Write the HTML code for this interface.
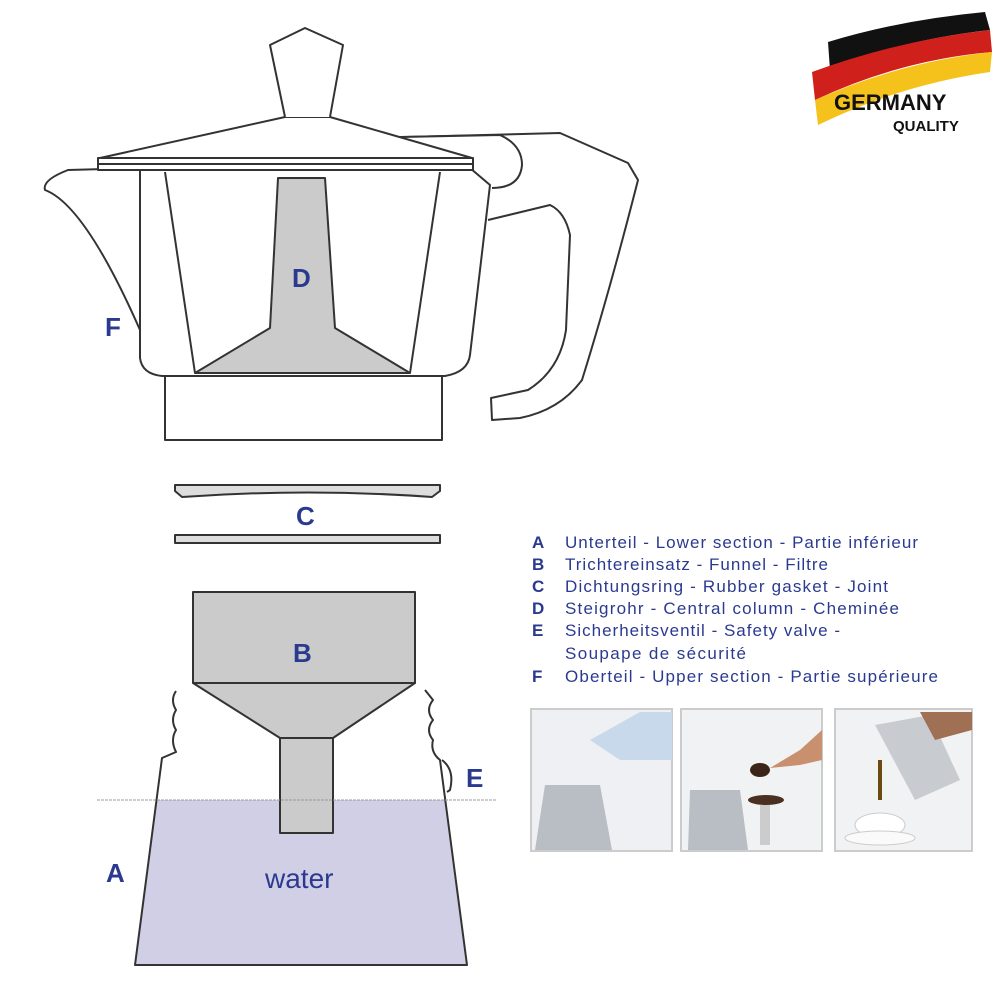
<!DOCTYPE html>
<html><head><meta charset="utf-8"><style>
body{margin:0;background:#fff;}
svg{display:block;}
text{font-family:"Liberation Sans",sans-serif;}
</style></head><body>
<svg width="1000" height="1000" viewBox="0 0 1000 1000" xmlns="http://www.w3.org/2000/svg">
<rect width="1000" height="1000" fill="#fff"/>
<g fill="none" stroke="#333" stroke-width="2" stroke-linejoin="round">
<!-- handle -->
<path d="M405,137 L560,133 L628,163 L638,180 Q610,290 582,380 Q560,410 520,418 L492,420 L491,398 L528,390 Q560,370 566,330 L570,235 Q565,212 550,205 L488,220" fill="#fff"/>
<path d="M400,137 L500,135 Q522,145 522,165 Q520,188 492,188" fill="#fff"/>
<!-- spout -->
<path d="M140,168 L68,170 Q42,180 45,190 Q85,205 140,330"/>
<!-- body -->
<path d="M140,168 L140,358 Q142,374 162,376 L445,376 Q468,372 470,355 L490,185 L470,168" fill="#fff"/>
<line x1="165" y1="172" x2="195" y2="373"/>
<line x1="440" y1="172" x2="410" y2="373"/>
<path d="M278,178 L325,178 L335,328 L410,373 L195,373 L270,328 Z" fill="#cbcbcb"/>
<!-- lid -->
<path d="M100,158 L285,117 L330,117 L472,158 Z" fill="#fff"/>
<rect x="98" y="158" width="375" height="12" fill="#fff"/>
<line x1="98" y1="164" x2="473" y2="164"/>
<path d="M285,117 L270,45 L305,28 L343,45 L330,117" fill="#fff"/>
<rect x="165" y="376" width="277" height="64" fill="#fff"/>
<!-- gasket -->
<path d="M175,485 L440,485 L440,491 L432,497 Q308,488 182,497 L175,491 Z" fill="#ddd"/>
<rect x="175" y="535" width="265" height="8" fill="#ddd"/>
<!-- bottom body water -->
<path d="M156.5,800 L135,965 L467,965 L445.3,800 Z" fill="#d0cfe6" stroke="none"/>
<path d="M176,691 Q170,700 176,710 Q170,720 176,730 Q170,740 176,752 L162,758 L135,965 L467,965 L440,760 Q430,752 433,740 Q425,730 433,720 Q425,710 433,700 L425,690"/>
<path d="M442,760 Q455,770 450,790 L447,792" fill="#fff"/>
<!-- funnel -->
<rect x="193" y="592" width="222" height="91" fill="#cbcbcb"/>
<path d="M193,683 L415,683 L333,738 L280,738 Z" fill="#cbcbcb"/>
<rect x="280" y="738" width="53" height="95" fill="#cbcbcb"/>
</g>
<line x1="97" y1="800" x2="497" y2="800" stroke="#999" stroke-width="1" stroke-dasharray="3,1"/>
<g fill="#2b3a8f" font-weight="bold" font-size="26">
<text x="292" y="287">D</text><text x="105" y="336">F</text>
<text x="296" y="525">C</text><text x="293" y="662">B</text>
<text x="466" y="787">E</text><text x="106" y="882">A</text>
</g>
<text x="265" y="888" fill="#2b3a8f" font-size="28">water</text>
<g fill="#2b3a8f" font-size="17">
<g font-weight="bold"><text x="532" y="548">A</text><text x="532" y="570">B</text><text x="532" y="592">C</text><text x="532" y="614">D</text><text x="532" y="636">E</text><text x="532" y="682">F</text></g>
<text x="565" y="548" textLength="353" lengthAdjust="spacing">Unterteil - Lower section - Partie inférieur</text>
<text x="565" y="570" textLength="263" lengthAdjust="spacing">Trichtereinsatz - Funnel - Filtre</text>
<text x="565" y="592" textLength="323" lengthAdjust="spacing">Dichtungsring - Rubber gasket - Joint</text>
<text x="565" y="614" textLength="334" lengthAdjust="spacing">Steigrohr - Central column - Cheminée</text>
<text x="565" y="636" textLength="275" lengthAdjust="spacing">Sicherheitsventil - Safety valve -</text>
<text x="565" y="659" textLength="181" lengthAdjust="spacing">Soupape de sécurité</text>
<text x="565" y="682" textLength="373" lengthAdjust="spacing">Oberteil - Upper section - Partie supérieure</text>
</g>
<!-- photos -->
<g stroke="#ccc" stroke-width="2">
<rect x="531" y="709" width="141" height="142" fill="#eef0f3"/>
<rect x="681" y="709" width="141" height="142" fill="#f1f2f4"/>
<rect x="835" y="709" width="137" height="142" fill="#f1f2f4"/>
</g>
<path d="M590,740 L640,712 L672,712 L672,760 L620,760 Z" fill="#c7d9ea"/>
<path d="M545,785 L600,785 L612,850 L535,850 Z" fill="#b9bec4"/>
<path d="M690,790 L740,790 L748,850 L688,850 Z" fill="#b9bec4"/>
<ellipse cx="766" cy="800" rx="18" ry="5" fill="#4a3020"/>
<rect x="760" y="805" width="10" height="40" fill="#ccc"/>
<ellipse cx="760" cy="770" rx="10" ry="7" fill="#3a2518"/>
<path d="M770,768 L800,750 L822,730 L822,760 L800,765 Z" fill="#c99070"/>
<path d="M875,725 L930,715 L960,780 L915,800 Z" fill="#c8cbd0"/>
<path d="M920,712 L972,712 L972,730 L935,740 Z" fill="#a07055"/>
<rect x="878" y="760" width="4" height="40" fill="#6b4a12"/>
<ellipse cx="880" cy="825" rx="25" ry="12" fill="#fff" stroke="#ccc"/>
<ellipse cx="880" cy="838" rx="35" ry="7" fill="#fafafa" stroke="#ccc"/>
<!-- logo -->
<path d="M828,42 Q900,20 985,12 L990,30 Q900,40 830,70 Z" fill="#111"/>
<path d="M812,72 Q900,40 990,30 L992,52 Q900,60 815,100 Z" fill="#d0201c"/>
<path d="M815,100 Q900,62 992,52 L990,72 Q900,85 818,125 Z" fill="#f4c21a"/>
<text x="834" y="110" font-weight="bold" font-size="22" fill="#111">GERMANY</text>
<text x="893" y="131" font-weight="bold" font-size="15" fill="#111">QUALITY</text>
</svg>
</body></html>
